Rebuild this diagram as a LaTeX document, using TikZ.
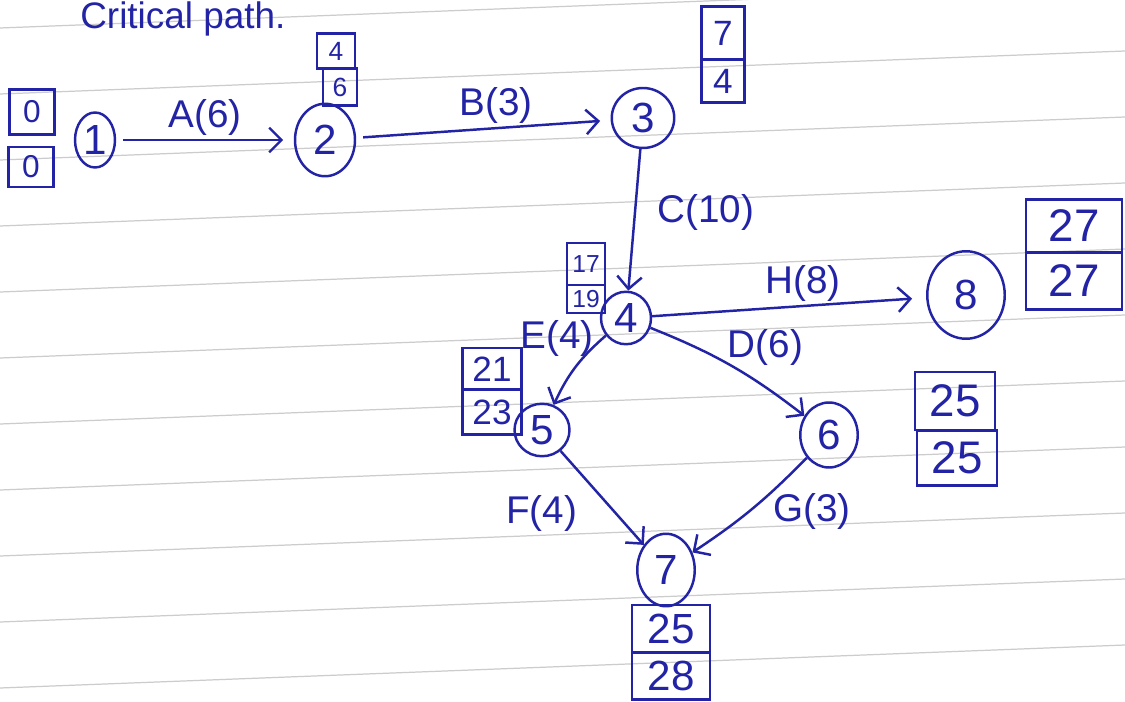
\documentclass[tikz,border=0pt]{standalone}
\usepackage{fontspec}
\setmainfont{Liberation Sans}
\usetikzlibrary{shapes.geometric,arrows.meta}
\definecolor{ink}{RGB}{35,35,165}
\begin{document}
\begin{tikzpicture}[x=0.02cm,y=-0.02cm,
 circ/.style={draw=ink,ellipse,line width=1.4pt,inner sep=0pt,text=ink,font=\fontsize{24}{28}\selectfont},
 boxn/.style={draw=ink,rectangle,line width=1.4pt,inner sep=0pt,text=ink},
 lbl/.style={text=ink,font=\fontsize{22}{26}\selectfont,inner sep=2pt},
 arr/.style={draw=ink,line width=1.4pt,-{Straight Barb[length=7pt,width=14pt,line width=1.4pt]}}]
\useasboundingbox[fill=white] (0,0) rectangle (1125,702);
\foreach \k in {0,...,10} \draw[gray!40,line width=0.7pt] (0,28+66*\k) -- (1125,-15+66*\k);
\node[lbl,font=\fontsize{21}{24}\selectfont,anchor=base west,inner sep=0pt] (title) at (80,29) {Critical path.};
% event nodes
\node[circ,minimum width=0.8cm,minimum height=1.1cm] (n1) at (95,140) {1};
\node[circ,minimum width=1.2cm,minimum height=1.45cm] (n2) at (325,140) {2};
\node[circ,minimum width=1.25cm,minimum height=1.2cm] (n3) at (643,118) {3};
\node[circ,minimum width=1.0cm,minimum height=1.05cm] (n4) at (626,318) {4};
\node[circ,minimum width=1.1cm,minimum height=1.05cm] (n5) at (542,430) {5};
\node[circ,minimum width=1.15cm,minimum height=1.3cm] (n6) at (829,435) {6};
\node[circ,minimum width=1.15cm,minimum height=1.45cm] (n7) at (666,570) {7};
\node[circ,minimum width=1.55cm,minimum height=1.75cm] (n8) at (966,295) {8};
% time boxes
\node[boxn,font=\fontsize{18}{20}\selectfont,minimum width=0.9cm,minimum height=0.9cm] (b1t) at (32,112) {0};
\node[boxn,font=\fontsize{18}{20}\selectfont,minimum width=0.9cm,minimum height=0.8cm] (b1b) at (31,167) {0};
\node[boxn,font=\fontsize{15}{18}\selectfont,minimum width=0.76cm,minimum height=0.7cm] (b2t) at (336,51) {4};
\node[boxn,font=\fontsize{15}{18}\selectfont,minimum width=0.68cm,minimum height=0.74cm] (b2b) at (340,87) {6};
\node[boxn,font=\fontsize{20}{24}\selectfont,minimum width=0.86cm,minimum height=1.06cm] (b3t) at (723,33) {7};
\node[boxn,font=\fontsize{20}{24}\selectfont,minimum width=0.86cm,minimum height=0.86cm] (b3b) at (723,81) {4};
\node[boxn,font=\fontsize{14}{16}\selectfont,minimum width=0.76cm,minimum height=0.84cm] (b4t) at (586,264) {17};
\node[boxn,font=\fontsize{14}{16}\selectfont,minimum width=0.76cm,minimum height=0.56cm] (b4b) at (586,299) {19};
\node[boxn,font=\fontsize{20}{24}\selectfont,minimum width=1.18cm,minimum height=0.84cm] (b5t) at (492,369) {21};
\node[boxn,font=\fontsize{20}{24}\selectfont,minimum width=1.18cm,minimum height=0.9cm] (b5b) at (492,412) {23};
\node[boxn,font=\fontsize{26}{30}\selectfont,minimum width=1.92cm,minimum height=1.06cm] (b8t) at (1074,226) {27};
\node[boxn,font=\fontsize{26}{30}\selectfont,minimum width=1.92cm,minimum height=1.14cm] (b8b) at (1074,281) {27};
\node[boxn,font=\fontsize{26}{30}\selectfont,minimum width=1.6cm,minimum height=1.16cm] (b6t) at (955,401) {25};
\node[boxn,font=\fontsize{26}{30}\selectfont,minimum width=1.6cm,minimum height=1.1cm] (b6b) at (957,458) {25};
\node[boxn,font=\fontsize{24}{28}\selectfont,minimum width=1.56cm,minimum height=0.96cm] (b7t) at (671,629) {25};
\node[boxn,font=\fontsize{24}{28}\selectfont,minimum width=1.56cm,minimum height=0.94cm] (b7b) at (671,676) {28};
% activities
\draw[arr,shorten <=4pt,shorten >=6pt] (n1) -- node[lbl,above] {A(6)} (n2);
\draw[arr,shorten <=4pt,shorten >=6pt] (n2) -- node[lbl,above,pos=0.55] {B(3)} (n3);
\draw[arr] (n3) -- node[lbl,right,pos=0.45,xshift=10pt] {C(10)} (n4);
\draw[arr,shorten >=8pt] (n4) -- node[lbl,above,pos=0.55] {H(8)} (n8);
\draw[arr] (n4) to[bend right=12] node[lbl,pos=0.05,left,xshift=-2pt] {E(4)} (n5);
\draw[arr] (n4) to[bend left=8] node[lbl,pos=0.42,above right,inner sep=0pt,xshift=4pt,yshift=-4pt] {D(6)} (n6);
\draw[arr] (n5) -- node[lbl,pos=0.55,left,xshift=-14pt,yshift=-6pt] {F(4)} (n7);
\draw[arr] (n6) to[bend left=6] node[lbl,pos=0.45,right,xshift=6pt,yshift=-4pt] {G(3)} (n7);
\end{tikzpicture}
\end{document}
